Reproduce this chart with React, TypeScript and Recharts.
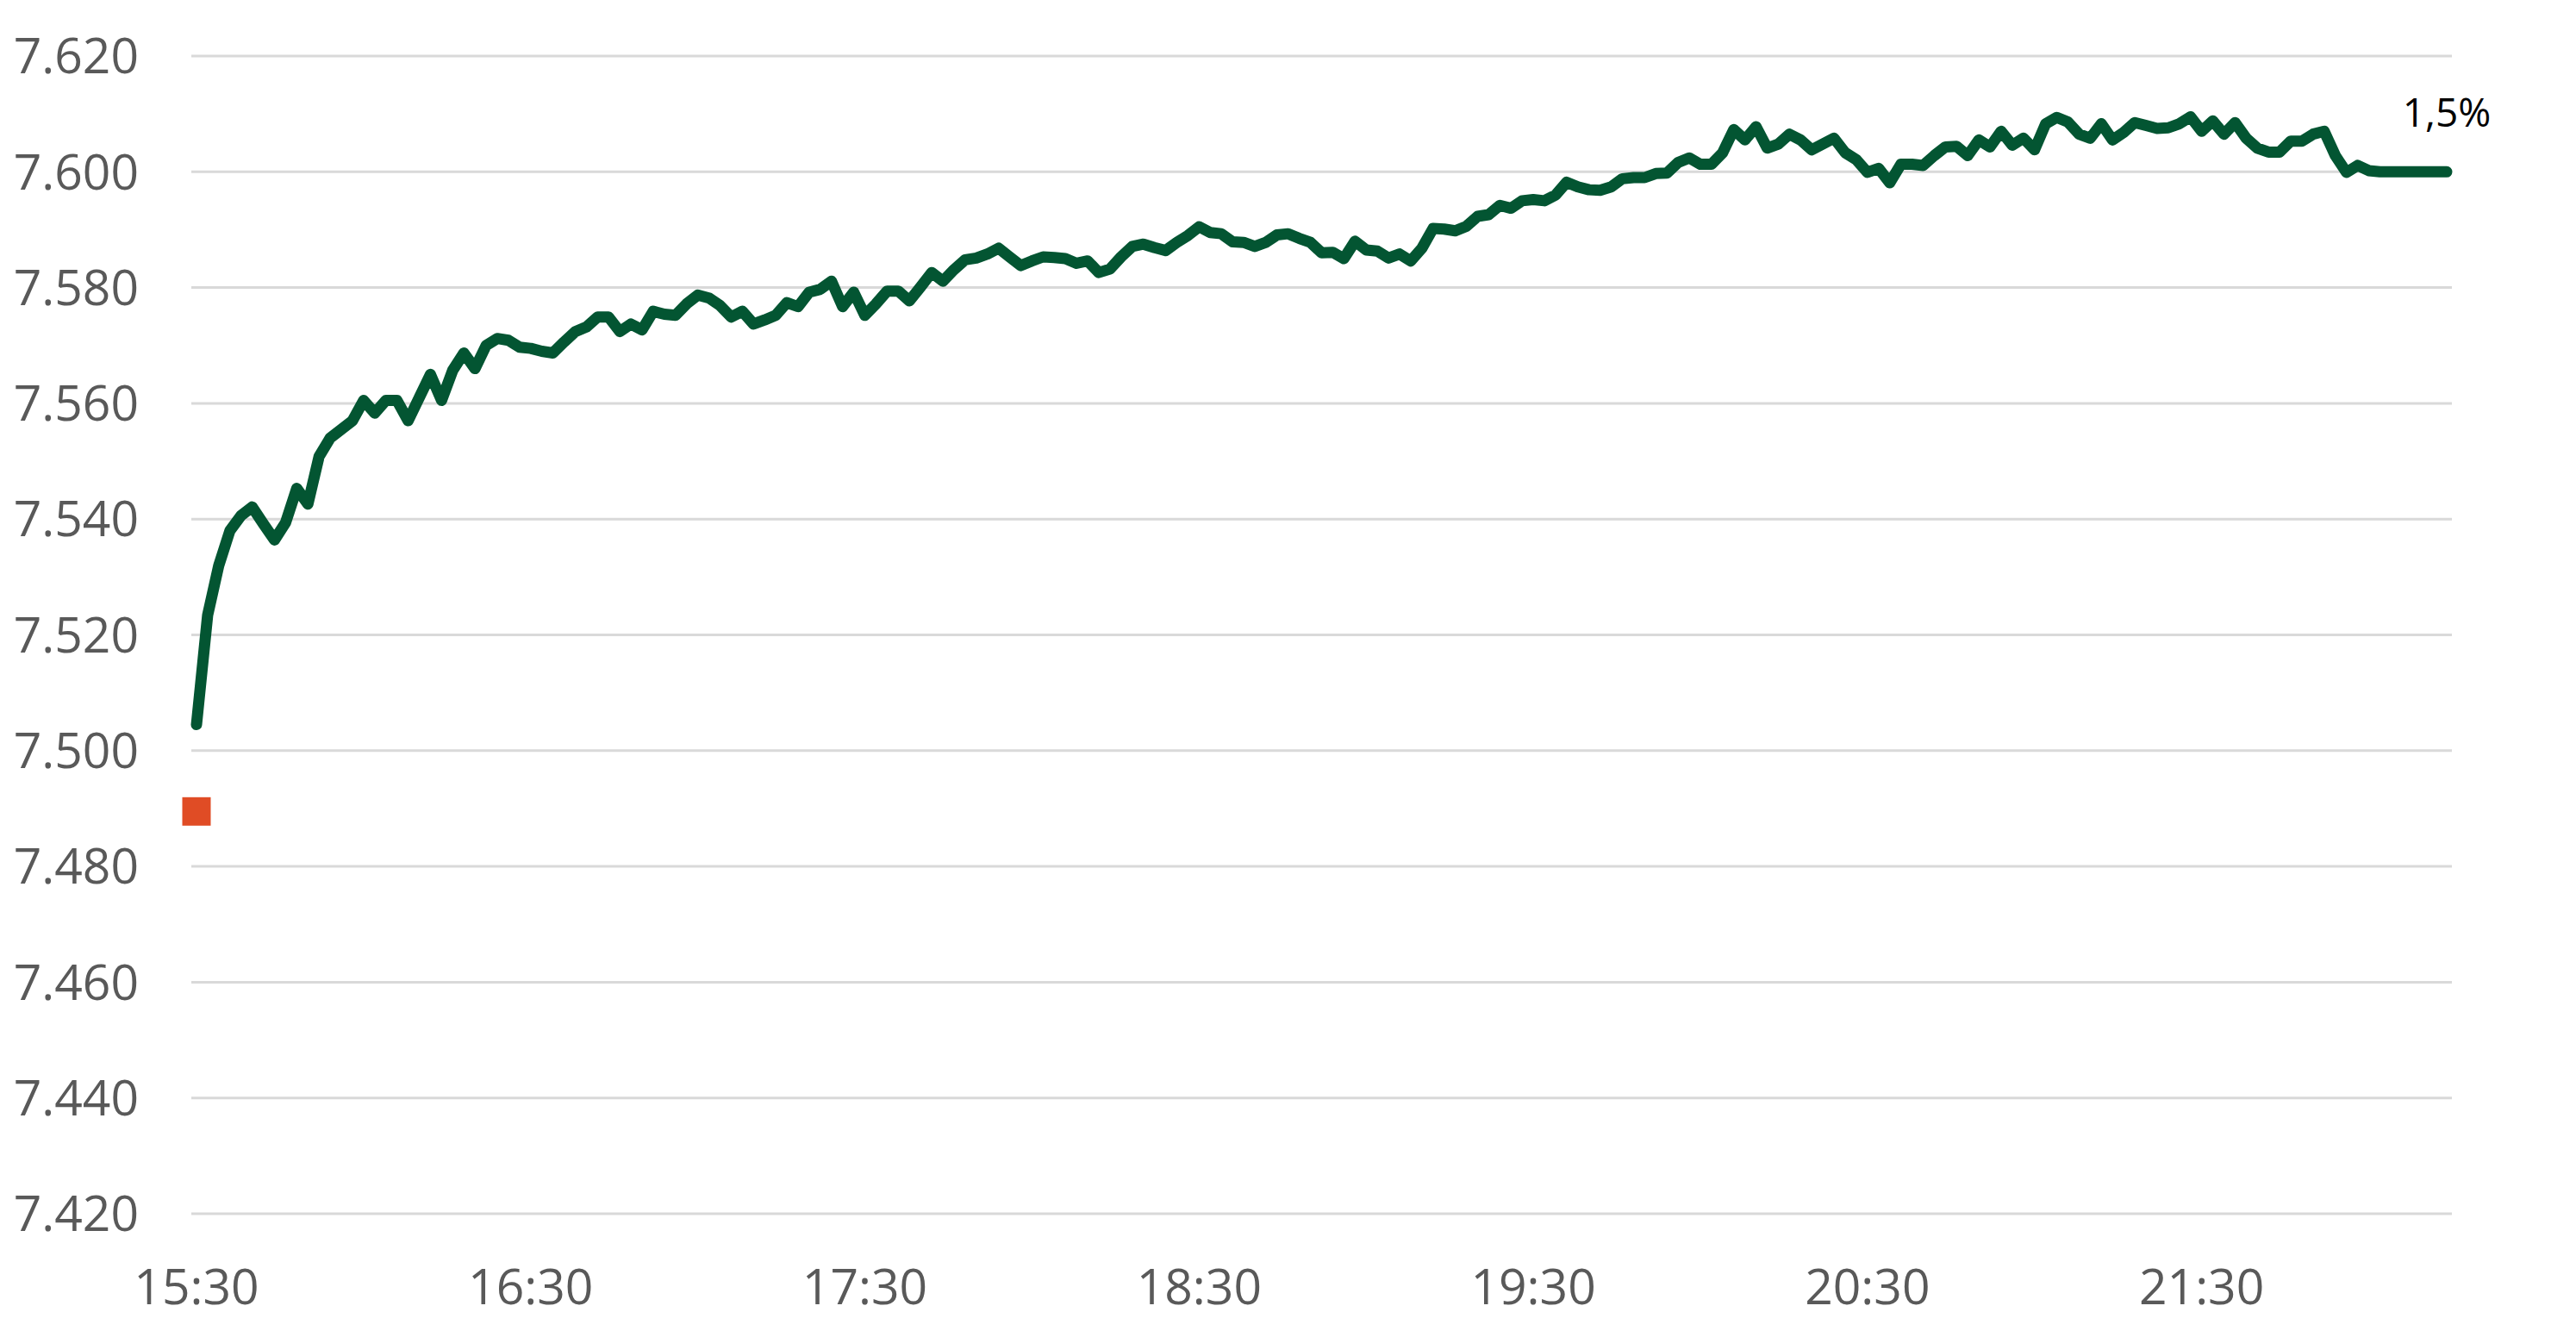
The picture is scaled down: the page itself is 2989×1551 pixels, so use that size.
import React from 'react';
import { LineChart, Line, XAxis, YAxis, CartesianGrid } from 'recharts';

// intraday index level, one reading every 2 minutes from 15:30
const values = [
  7504.5, 7523.4, 7532, 7538, 7540.6, 7542.1, 7539.2, 7536.4, 7539.4, 7545.3,
  7542.6, 7550.8, 7554, 7555.5, 7557, 7560.5, 7558.3, 7560.5, 7560.5, 7557,
  7561, 7565, 7560.5, 7565.7, 7568.7, 7566, 7570, 7571.2, 7570.9, 7569.7,
  7569.5, 7569, 7568.7, 7570.6, 7572.4, 7573.2, 7574.9, 7574.9, 7572.4, 7573.7,
  7572.7, 7575.9, 7575.4, 7575.2, 7577.2, 7578.7, 7578.2, 7576.9, 7574.9, 7575.9,
  7573.7, 7574.4, 7575.2, 7577.4, 7576.7, 7579.2, 7579.7, 7581.1, 7576.7, 7579.2,
  7575.2, 7577.2, 7579.4, 7579.4, 7577.7, 7580.1, 7582.6, 7581.1, 7583.1, 7584.8,
  7585.1, 7585.8, 7586.8, 7585.3, 7583.8, 7584.6, 7585.3, 7585.2, 7585, 7584.2,
  7584.6, 7582.6, 7583.2, 7585.3, 7587.1, 7587.5, 7586.9, 7586.4, 7587.8, 7589,
  7590.5, 7589.5, 7589.3, 7587.9, 7587.8, 7587.1, 7587.8, 7589.1, 7589.3, 7588.5,
  7587.8, 7586, 7586.1, 7585, 7588, 7586.5, 7586.3, 7585.1, 7585.8, 7584.6,
  7586.8, 7590.2, 7590.1, 7589.8, 7590.6, 7592.3, 7592.6, 7594.2, 7593.7, 7595,
  7595.2, 7595, 7596, 7598.2, 7597.4, 7596.9, 7596.8, 7597.4, 7598.8, 7599,
  7599, 7599.7, 7599.8, 7601.6, 7602.4, 7601.3, 7601.3, 7603.3, 7607.3, 7605.5,
  7607.8, 7604.1, 7604.8, 7606.5, 7605.5, 7603.8, 7604.8, 7605.8, 7603.3, 7602.1,
  7599.9, 7600.6, 7598.1, 7601.3, 7601.3, 7601.1, 7602.8, 7604.3, 7604.4, 7602.8,
  7605.5, 7604.3, 7607, 7604.6, 7605.8, 7603.8, 7608.3, 7609.4, 7608.6, 7606.5,
  7605.8, 7608.3, 7605.5, 7606.8, 7608.5, 7608, 7607.5, 7607.6, 7608.3, 7609.5,
  7607, 7608.8, 7606.5, 7608.5, 7605.8, 7604.1, 7603.4, 7603.4, 7605.3, 7605.3,
  7606.5, 7607, 7602.8, 7599.9, 7601.1, 7600.2, 7600, 7600, 7600, 7600,
  7600, 7600, 7600,
];

// time stamps, 2-minute steps from 15:30
const times = values.map((_, i) => {
  const m = 15 * 60 + 30 + i * 2;
  return `${Math.floor(m / 60)}:${String(m % 60).padStart(2, '0')}`;
});

const prevClose = 7489.5;
const changeLabel = '1,5%';
const yTicks = [7420, 7440, 7460, 7480, 7500, 7520, 7540, 7560, 7580, 7600, 7620];

const GREEN = '#035532';
const RED = '#E04C25';
const FONT = '"Open Sans", "Noto Sans", sans-serif';

const fmt = (v: number) => `${Math.floor(v / 1000)}.${String(v % 1000).padStart(3, '0')}`;

const data = times.map((t, i) => ({
  time: t,
  value: values[i],
  prev: i === 0 ? prevClose : null,
}));

const lastIdx = data.length - 1;

export default function App() {
  return (
    <div style={{ position: 'absolute', left: 0, top: 0, width: 2989, height: 1551, background: '#fff', fontFamily: FONT }}>
      <LineChart width={2989} height={1551} data={data} margin={{ top: 65, right: 144, bottom: 0, left: 0 }}>
        <CartesianGrid vertical={false} stroke="#d9d9d9" strokeWidth={3} />
        <XAxis
          dataKey="time"
          interval={29}
          padding={{ left: 6, right: 6 }}
          axisLine={false}
          tickLine={false}
          tickSize={0}
          tickMargin={65}
          height={143}
          tick={{ fill: '#595959', fontSize: 57, fontFamily: FONT }}
        />
        <YAxis
          domain={[7420, 7620]}
          ticks={yTicks}
          tickFormatter={fmt}
          axisLine={false}
          tickLine={false}
          tickSize={0}
          tickMargin={61}
          width={222}
          tick={{ fill: '#595959', fontSize: 57, fontFamily: FONT }}
        />
        <Line
          dataKey="prev"
          stroke="none"
          isAnimationActive={false}
          dot={(p: any) =>
            p.cy == null || p.value == null ? (
              <g key={`d${p.index}`} />
            ) : (
              <rect key={`d${p.index}`} x={p.cx - 16.5} y={p.cy - 16.5} width={33} height={33} fill={RED} />
            )
          }
        />
        <Line
          dataKey="value"
          stroke={GREEN}
          strokeWidth={13}
          strokeLinejoin="round"
          strokeLinecap="round"
          dot={false}
          isAnimationActive={false}
          label={(p: any) =>
            p.index === lastIdx ? (
              <text key="lbl" x={p.x} y={p.y - 52} textAnchor="middle" fontSize={46} fontFamily={FONT} fill="#000">
                {changeLabel}
              </text>
            ) : (
              <g key={`l${p.index}`} />
            )
          }
        />
      </LineChart>
    </div>
  );
}
